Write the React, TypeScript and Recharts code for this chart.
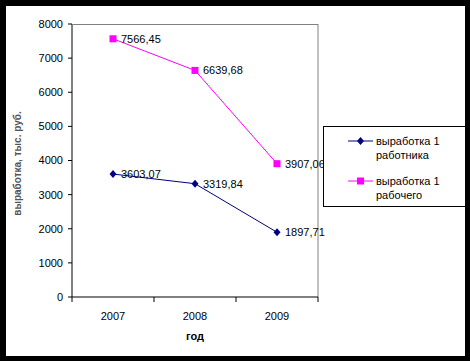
import React from 'react';
import { LineChart, Line, XAxis, YAxis, Legend, LabelList, CartesianGrid } from 'recharts';

const years = ['2007', '2008', '2009'];
const workerOutput = [3603.07, 3319.84, 1897.71];
const laborerOutput = [7566.45, 6639.68, 3907.06];
const yTicks = [0, 1000, 2000, 3000, 4000, 5000, 6000, 7000, 8000];
const yMax = 8000;
const seriesNames = ['выработка 1 работника', 'выработка 1 рабочего'];
const seriesColors = ['#000080', '#FF00FF'];

const data = years.map((year, i) => ({
  year,
  worker: workerOutput[i],
  laborer: laborerOutput[i],
}));

const W = 470;
const H = 361;
const M = { top: 24, right: 152, bottom: 14, left: 0 };
const Y_W = 72;
const PLOT_W = W - M.left - M.right - Y_W;
const BAND = PLOT_W / years.length;
const FONT = '"Liberation Sans", Arial, sans-serif';

const fmt = (v: any) => Number(v).toFixed(2).replace('.', ',');

const Diamond = (p: any) => {
  const { cx, cy, index } = p;
  if (cx == null || cy == null) return <g key={index} />;
  return (
    <polygon
      key={index}
      points={`${cx},${cy - 4} ${cx + 3.5},${cy} ${cx},${cy + 4} ${cx - 3.5},${cy}`}
      fill={seriesColors[0]}
    />
  );
};

const Square = (p: any) => {
  const { cx, cy, index } = p;
  if (cx == null || cy == null) return <g key={index} />;
  return <rect key={index} x={cx - 3.5} y={cy - 3.5} width={7} height={7} fill={seriesColors[1]} />;
};

const YearTick = (p: any) => {
  const { x, y, payload, index } = p;
  const half = payload && payload.offset ? payload.offset : BAND / 2;
  return (
    <g>
      <line x1={x - half} x2={x - half} y1={y} y2={y + 5} stroke="#000" />
      {index === years.length - 1 && (
        <line x1={x + half} x2={x + half} y1={y} y2={y + 5} stroke="#000" />
      )}
      <text x={x} y={y + 23} textAnchor="middle" fontSize={11} fill="#000" fontFamily={FONT}>
        {payload.value}
      </text>
    </g>
  );
};

const LegendBox = () => (
  <div
    style={{
      width: 150,
      height: 81,
      boxSizing: 'border-box',
      border: '1px solid #000',
      background: '#fff',
      padding: '7px 0 0 24px',
      fontFamily: FONT,
      fontSize: 11,
      lineHeight: '14px',
      color: '#000',
    }}
  >
    {seriesNames.map((name, i) => (
      <div key={name} style={{ display: 'flex', alignItems: 'flex-start', marginTop: i ? 12 : 0 }}>
        <svg width={28} height={14} style={{ flex: 'none' }}>
          <line x1={0} x2={25} y1={7} y2={7} stroke={seriesColors[i]} />
          {i === 0 ? (
            <polygon points="12.5,3 16,7 12.5,11 9,7" fill={seriesColors[i]} />
          ) : (
            <rect x={9} y={3.5} width={7} height={7} fill={seriesColors[i]} />
          )}
        </svg>
        <div style={{ width: 80 }}>{name}</div>
      </div>
    ))}
  </div>
);

const YLabel = (p: any) => {
  const vb = p.viewBox || { x: 0, y: M.top, height: 273 };
  const cx = vb.x + 17;
  const cy = vb.y + vb.height / 2 + 3;
  return (
    <text
      x={cx}
      y={cy}
      transform={`rotate(-90, ${cx}, ${cy})`}
      textAnchor="middle"
      dominantBaseline="central"
      fontSize={10}
      fontWeight="bold"
      fill="#555"
      fontFamily={FONT}
    >
      выработка, тыс. руб.
    </text>
  );
};

const XLabel = (p: any) => {
  const vb = p.viewBox || { x: Y_W, y: 297, width: 246 };
  return (
    <text
      x={vb.x + vb.width / 2}
      y={vb.y + 43}
      textAnchor="middle"
      fontSize={11}
      fontWeight="bold"
      fill="#000"
      fontFamily={FONT}
    >
      год
    </text>
  );
};

export default function App() {
  return (
    <div style={{ position: 'fixed', left: 0, top: 0, width: W, height: H, background: '#000' }}>
      <div
        style={{
          position: 'absolute',
          left: 6,
          top: 6,
          width: 459,
          height: 350,
          background: '#fff',
          overflow: 'hidden',
        }}
      >
        <div style={{ position: 'absolute', left: -6, top: -6, width: W, height: H }}>
          <LineChart width={W} height={H} data={data} margin={M} style={{ fontFamily: FONT }}>
            <CartesianGrid
              stroke="#808080"
              horizontal={false}
              verticalCoordinatesGenerator={({ offset }: any) => [offset.left + offset.width]}
            />
            <XAxis
              dataKey="year"
              height={50}
              interval={0}
              padding={{ left: BAND / 2, right: BAND / 2 }}
              tickLine={false}
              tickSize={0}
              tickMargin={0}
              tick={<YearTick />}
              axisLine={{ stroke: '#000' }}
              label={<XLabel />}
            />
            <YAxis
              width={Y_W}
              domain={[0, yMax]}
              ticks={yTicks}
              interval={0}
              tickSize={4}
              tickMargin={5}
              tick={{ fill: '#000', fontSize: 11, fontFamily: FONT }}
              tickLine={{ stroke: '#000' }}
              axisLine={{ stroke: '#000' }}
              label={<YLabel />}
            />
            <Legend
              content={<LegendBox />}
              layout="vertical"
              align="center"
              verticalAlign="middle"
              wrapperStyle={{ position: 'absolute', left: 323, top: 126, width: 150, height: 81 }}
            />
            <Line
              dataKey="worker"
              name={seriesNames[0]}
              stroke={seriesColors[0]}
              strokeWidth={1}
              dot={Diamond}
              activeDot={false}
              isAnimationActive={false}
            >
              <LabelList
                dataKey="worker"
                position="right"
                offset={8}
                formatter={fmt}
                fill="#000"
                fontSize={11}
                fontFamily={FONT}
              />
            </Line>
            <Line
              dataKey="laborer"
              name={seriesNames[1]}
              stroke={seriesColors[1]}
              strokeWidth={1}
              dot={Square}
              activeDot={false}
              isAnimationActive={false}
            >
              <LabelList
                dataKey="laborer"
                position="right"
                offset={8}
                formatter={fmt}
                fill="#000"
                fontSize={11}
                fontFamily={FONT}
              />
            </Line>
          </LineChart>
          {/* top edge of the plot frame */}
          <div
            style={{
              position: 'absolute',
              left: M.left + Y_W,
              top: M.top,
              width: PLOT_W,
              height: 1,
              background: '#808080',
              zIndex: 5,
              pointerEvents: 'none',
            }}
          />
        </div>
      </div>
    </div>
  );
}
